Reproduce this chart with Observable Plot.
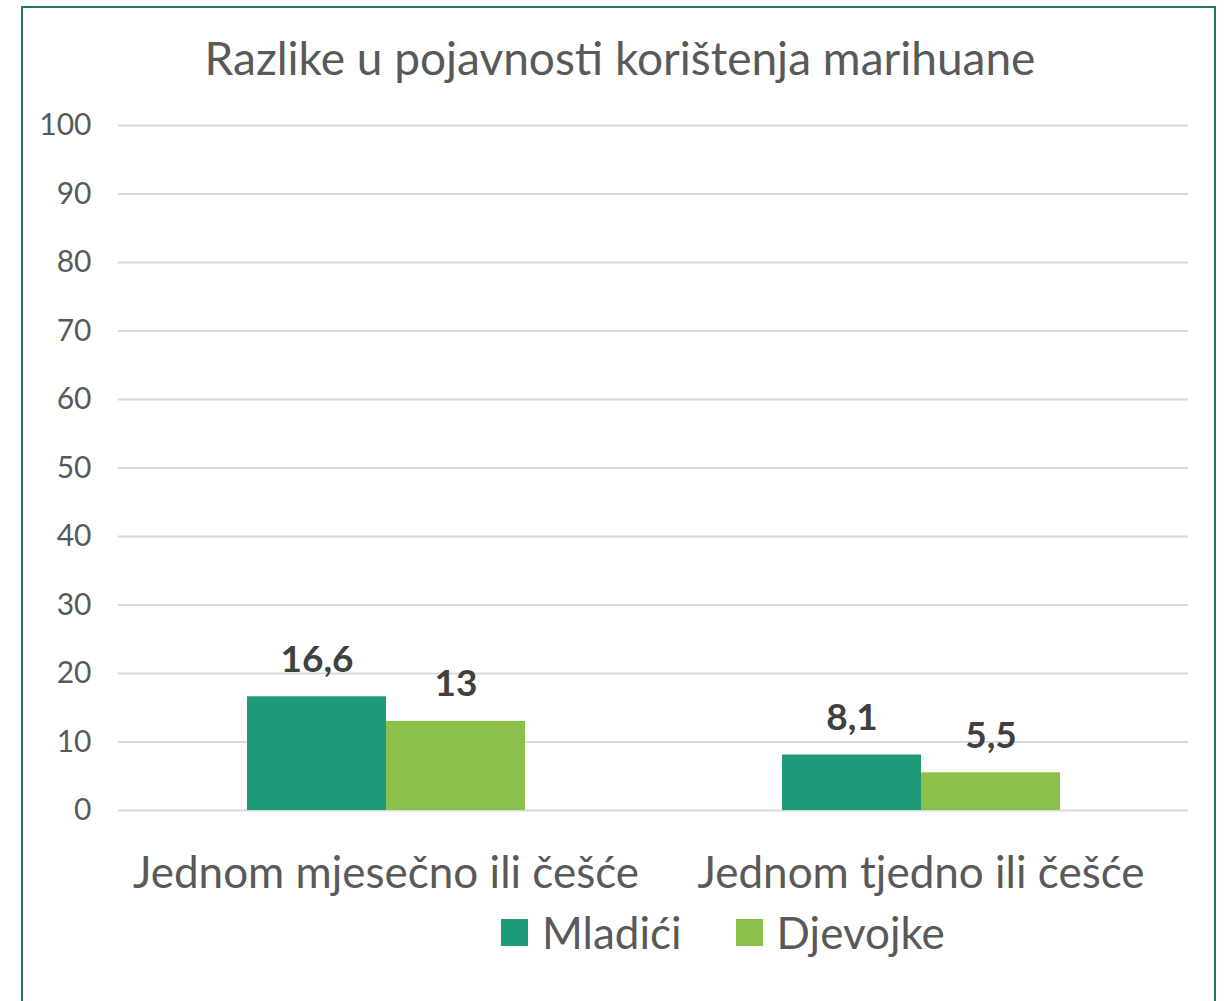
<!DOCTYPE html>
<html>
<head>
<meta charset="utf-8">
<script src="https://cdn.jsdelivr.net/npm/d3@7"></script>
<script src="https://cdn.jsdelivr.net/npm/@observablehq/plot@0.6"></script>
<style>
  html, body { margin: 0; padding: 0; background: #fff; overflow: hidden; }
  body { width: 1228px; height: 1001px; position: relative; font-family: Lato, "Open Sans", sans-serif; }
  #frame { position: absolute; left: 21px; top: 6px; width: 1195px; height: 1020px; border: 2px solid #217a5b; box-sizing: border-box; }
  #title { position: absolute; left: 0; width: 1240px; top: 30px; text-align: center; font-size: 46px; color: #595959; white-space: nowrap; }
  #chart { position: absolute; left: 0; top: 100px; }
  #legend { position: absolute; left: 501px; top: 906px; display: flex; align-items: center; font-size: 44px; color: #595959; white-space: nowrap; }
  .sw { width: 27px; height: 27px; display: inline-block; margin-right: 14px; }
  .item { display: flex; align-items: center; margin-right: 54px; }
</style>
</head>
<body>
<div id="frame"></div>
<div id="title">Razlike u pojavnosti korištenja marihuane</div>
<div id="chart"></div>
<div id="legend"></div>
<script>
const categories = ["Jednom mjesečno ili češće", "Jednom tjedno ili češće"];
const series = ["Mladići", "Djevojke"];
const mladici = [16.6, 8.1];
const djevojke = [13, 5.5];
const colors = ["#1e9a78", "#8bc14a"];
const yTicks = [0, 10, 20, 30, 40, 50, 60, 70, 80, 90, 100];

const data = [];
categories.forEach((c, i) => {
  data.push({cat: c, sex: series[0], value: mladici[i]});
  data.push({cat: c, sex: series[1], value: djevojke[i]});
});
const fmt = v => String(v).replace(".", ",");

const chart = Plot.plot({
  width: 1228,
  height: 800,
  marginLeft: 117,
  marginRight: 40,
  marginTop: 25,
  marginBottom: 90,
  style: {fontFamily: "Lato, 'Open Sans', sans-serif", background: "transparent", overflow: "visible"},
  fx: {domain: categories, paddingInner: 0, paddingOuter: 0, label: null},
  x: {domain: series, paddingInner: 0, paddingOuter: 0.9125, axis: null},
  y: {domain: [0, 100], label: null},
  color: {domain: series, range: colors},
  marks: [
    Plot.ruleY(yTicks, {stroke: "#d9d9d9", strokeWidth: 2}),
    Plot.barY(data, {fx: "cat", x: "sex", y: "value", fill: "sex"}),
    Plot.text(data, {fx: "cat", x: "sex", y: "value", text: d => fmt(d.value), dy: -37, fontSize: 37, fontWeight: "bold", fill: "#404040"}),
    Plot.axisY(yTicks, {tickSize: 0, tickPadding: 27, fontSize: 30, color: "#595959", label: null}),
    Plot.axisFx({anchor: "bottom", tickSize: 0, tickPadding: 46, fontSize: 44, color: "#595959", label: null, textOverflow: null, lineWidth: Infinity})
  ]
});
document.getElementById("chart").appendChild(chart);

const legend = document.getElementById("legend");
series.forEach((s, i) => {
  const it = document.createElement("div");
  it.className = "item";
  const sw = document.createElement("span");
  sw.className = "sw";
  sw.style.background = colors[i];
  it.appendChild(sw);
  it.appendChild(document.createTextNode(s));
  legend.appendChild(it);
});
</script>
</body>
</html>
